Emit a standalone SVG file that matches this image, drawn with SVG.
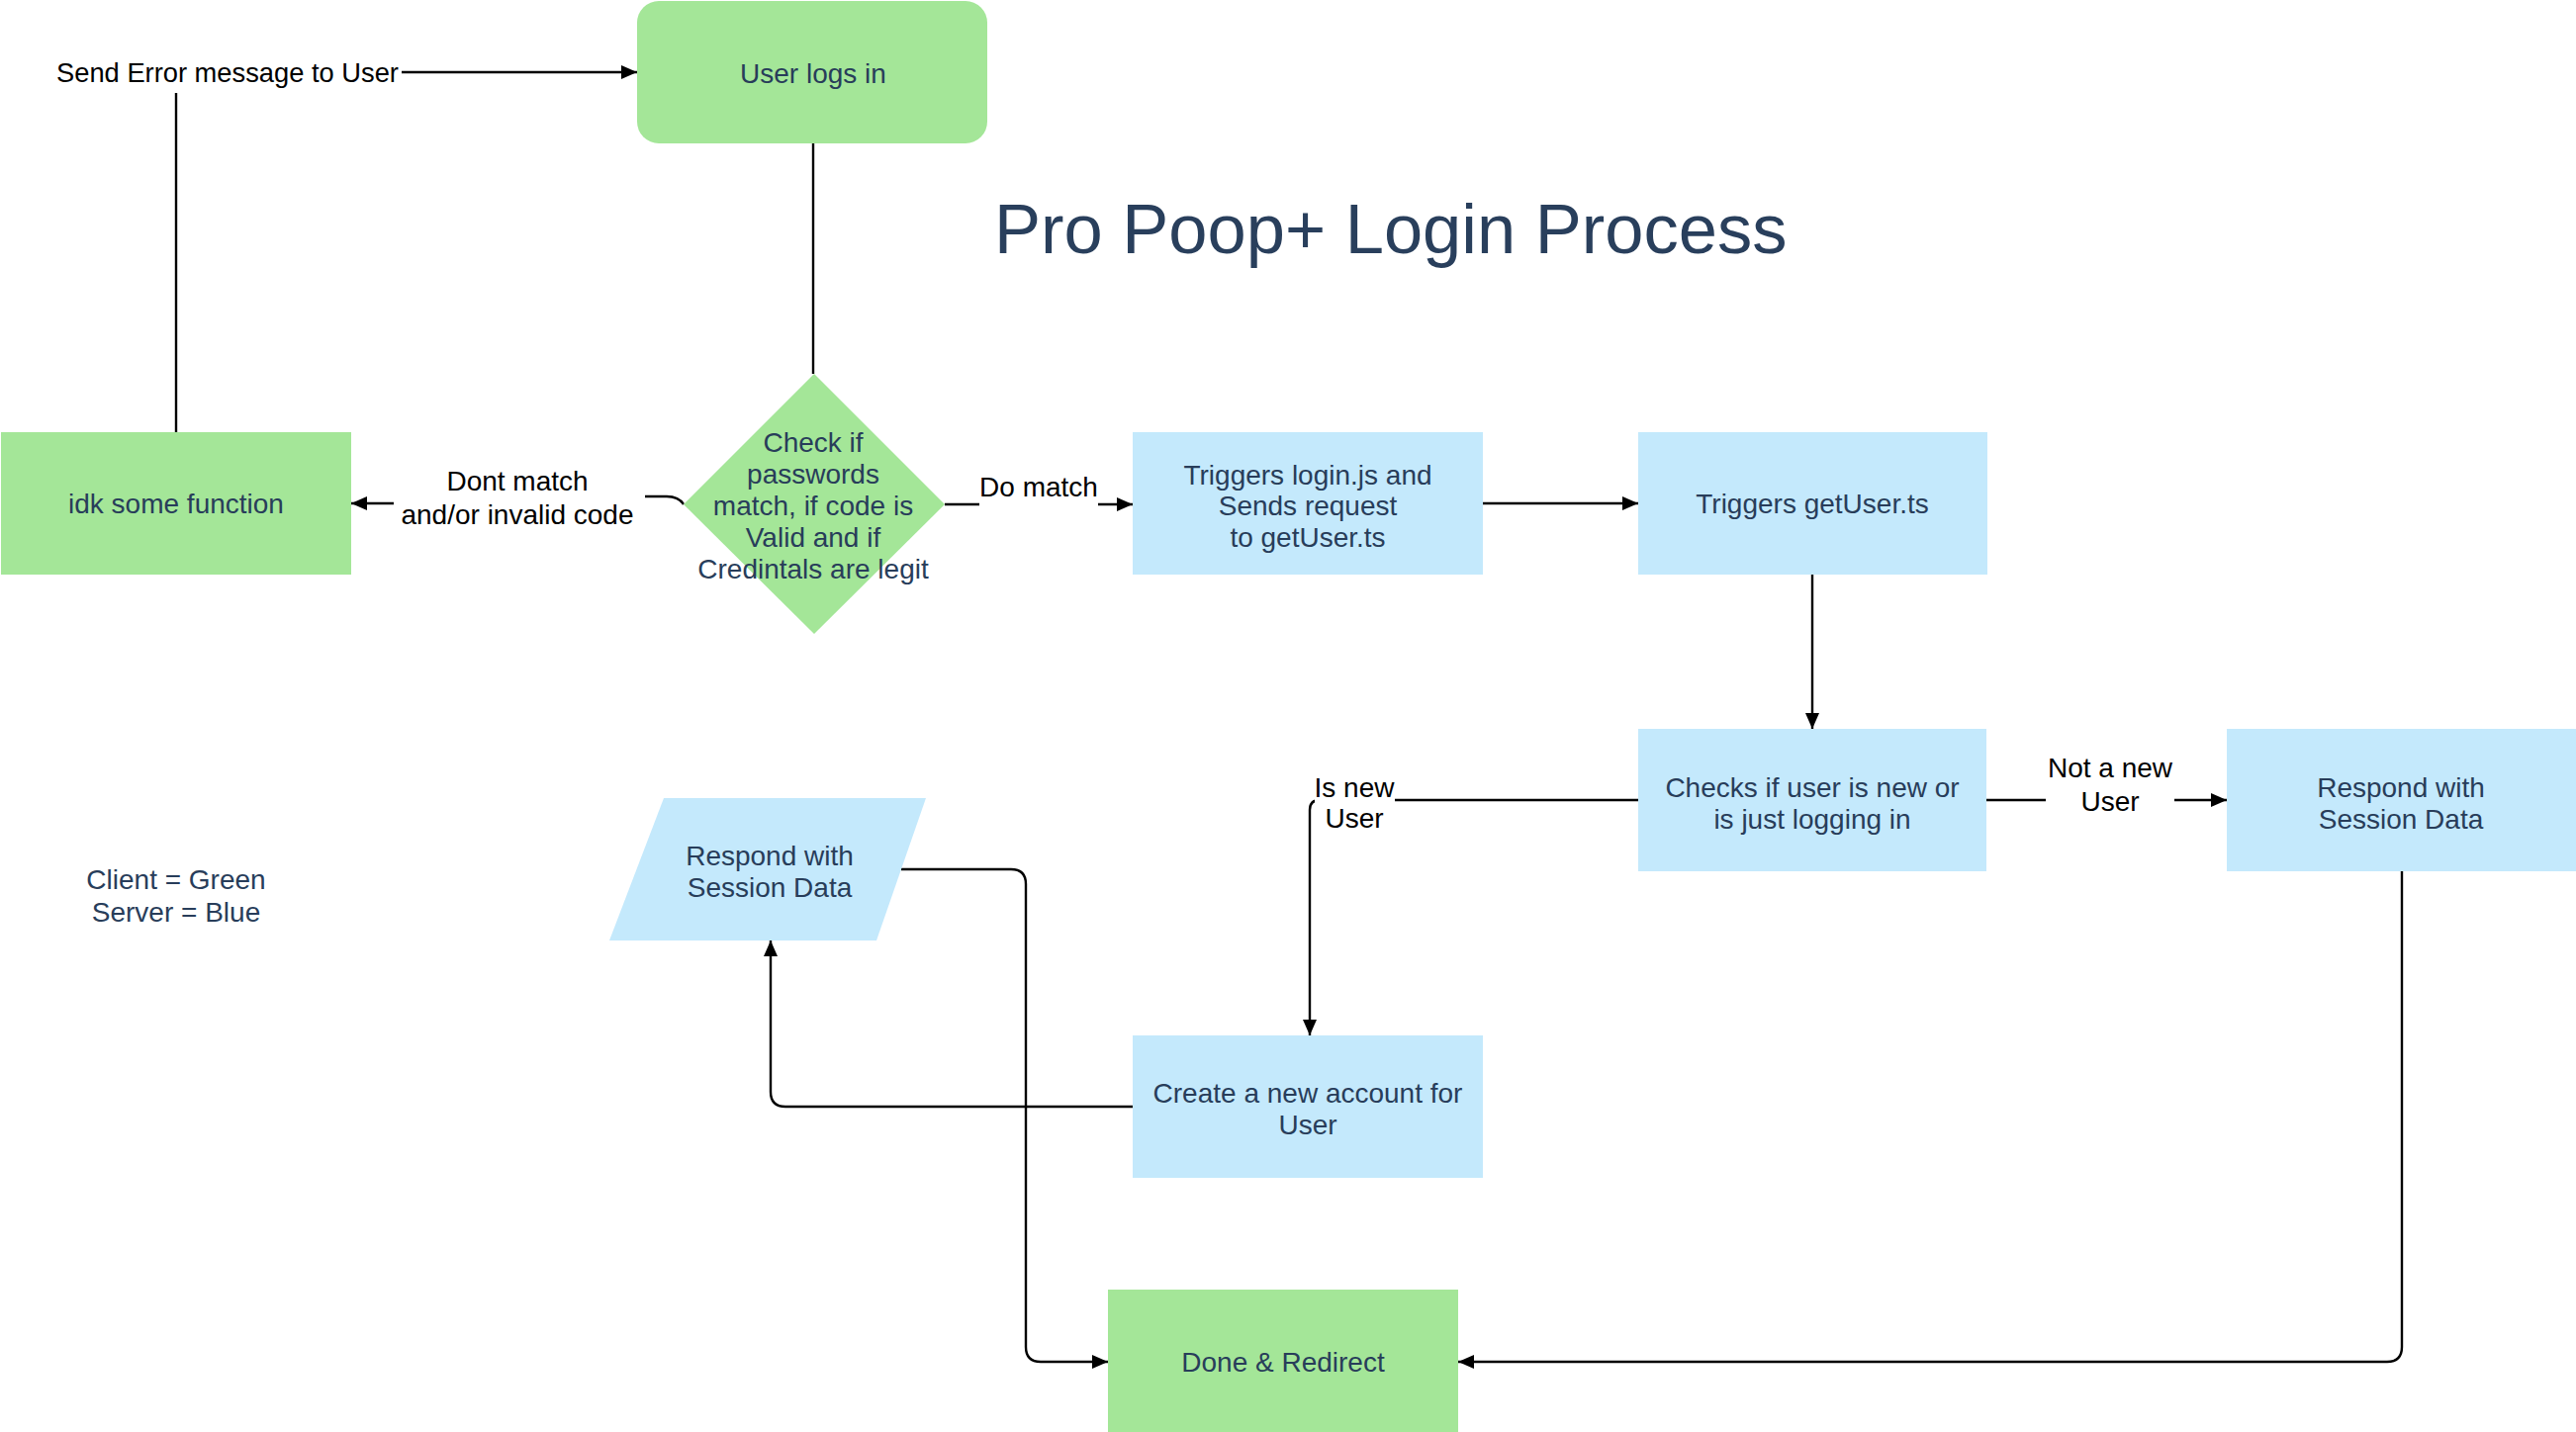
<svg xmlns="http://www.w3.org/2000/svg" width="2604" height="1448" viewBox="0 0 2604 1448">
<style>
.g{fill:#a4e698}
.b{fill:#c4e9fc}
.t{font-family:"Liberation Sans",Arial,sans-serif;font-size:28px;fill:#283d5a;text-anchor:middle}
.l{font-family:"Liberation Sans",Arial,sans-serif;font-size:28px;fill:#000;text-anchor:middle}
.c{fill:none;stroke:#000;stroke-width:2.4}
.bg{fill:#fff}
</style>
<defs>
<marker id="arr" markerWidth="16" markerHeight="14" refX="16" refY="7" orient="auto" markerUnits="userSpaceOnUse">
<path d="M0,0 L16,7 L0,14 Z" fill="#000"/>
</marker>
</defs>
<rect width="2604" height="1448" fill="#fff"/>
<g id="connectors">
<path class="c" d="M178,437 L178,73 L644,73" marker-end="url(#arr)"/>
<path class="c" d="M822,145 L822,378"/>
<path class="c" d="M691,510 Q686,502 674,502 L540,502 L540,509 L355,509" marker-end="url(#arr)"/>
<path class="c" d="M955,510 L1145,510" marker-end="url(#arr)"/>
<path class="c" d="M1499,509 L1656,509" marker-end="url(#arr)"/>
<path class="c" d="M1832,581 L1832,737" marker-end="url(#arr)"/>
<path class="c" d="M2008,809 L2251,809" marker-end="url(#arr)"/>
<path class="c" d="M1656,809 L1334,809 Q1324,809 1324,819 L1324,1047" marker-end="url(#arr)"/>
<path class="c" d="M1145,1119 L794,1119 Q779,1119 779,1104 L779,951" marker-end="url(#arr)"/>
<path class="c" d="M911,879 L1022,879 Q1037,879 1037,894 L1037,1362 Q1037,1377 1052,1377 L1120,1377" marker-end="url(#arr)"/>
<path class="c" d="M2428,881 L2428,1362 Q2428,1377 2413,1377 L1474,1377" marker-end="url(#arr)"/>
</g>
<g id="labels">
<rect class="bg" x="50" y="52" width="356" height="42"/>
<text class="l" x="230" y="83" font-size="27.3" style="font-size:27.3px">Send Error message to User</text>
<rect class="bg" x="398" y="462" width="254" height="78"/>
<text class="l" x="523" y="496">Dont match</text>
<text class="l" x="523" y="530">and/or invalid code</text>
<rect class="bg" x="990" y="472" width="120" height="42"/>
<text class="l" x="1050" y="502">Do match</text>
<rect class="bg" x="2068" y="756" width="130" height="76"/>
<text class="l" x="2133" y="786">Not a new</text>
<text class="l" x="2133" y="820">User</text>
<rect class="bg" x="1329" y="776" width="81" height="70"/>
<text class="l" x="1369" y="806">Is new</text>
<text class="l" x="1369" y="837">User</text>
</g>
<g id="n-userlogs"><rect class="g" x="644" y="1" width="354" height="144" rx="22"/><text class="t" x="822" y="84">User logs in</text></g>
<g id="n-idk"><rect class="g" x="1" y="437" width="354" height="144"/><text class="t" x="178" y="519">idk some function</text></g>
<g id="n-check"><polygon class="g" points="823,378 955,510 823,641 691,510"/>
<text class="t" x="822" y="457">Check if</text>
<text class="t" x="822" y="489">passwords</text>
<text class="t" x="822" y="521">match, if code is</text>
<text class="t" x="822" y="553">Valid and if</text>
<text class="t" x="822" y="585">Credintals are legit</text></g>
<g id="n-login"><rect class="b" x="1145" y="437" width="354" height="144"/>
<text class="t" x="1322" y="490">Triggers login.js and</text>
<text class="t" x="1322" y="521">Sends request</text>
<text class="t" x="1322" y="553">to getUser.ts</text></g>
<g id="n-getuser"><rect class="b" x="1656" y="437" width="353" height="144"/><text class="t" x="1832" y="519">Triggers getUser.ts</text></g>
<g id="n-checks"><rect class="b" x="1656" y="737" width="352" height="144"/>
<text class="t" x="1832" y="806">Checks if user is new or</text>
<text class="t" x="1832" y="838">is just logging in</text></g>
<g id="n-respond1"><rect class="b" x="2251" y="737" width="353" height="144"/>
<text class="t" x="2427" y="806">Respond with</text>
<text class="t" x="2427" y="838">Session Data</text></g>
<g id="n-create"><rect class="b" x="1145" y="1047" width="354" height="144"/>
<text class="t" x="1322" y="1115">Create a new account for</text>
<text class="t" x="1322" y="1147">User</text></g>
<g id="n-respond2"><polygon class="b" points="671,807 936,807 886,951 616,951"/>
<text class="t" x="778" y="875">Respond with</text>
<text class="t" x="778" y="907">Session Data</text></g>
<g id="n-done"><rect class="g" x="1120" y="1304" width="354" height="144"/><text class="t" x="1297" y="1387">Done &amp; Redirect</text></g>
<g id="title"><text x="1005" y="256" font-family="Liberation Sans, Arial, sans-serif" font-size="70.5" fill="#293f5c">Pro Poop+ Login Process</text></g>
<g id="legend">
<text class="t" x="178" y="899">Client = Green</text>
<text class="t" x="178" y="932">Server = Blue</text>
</g>
</svg>
